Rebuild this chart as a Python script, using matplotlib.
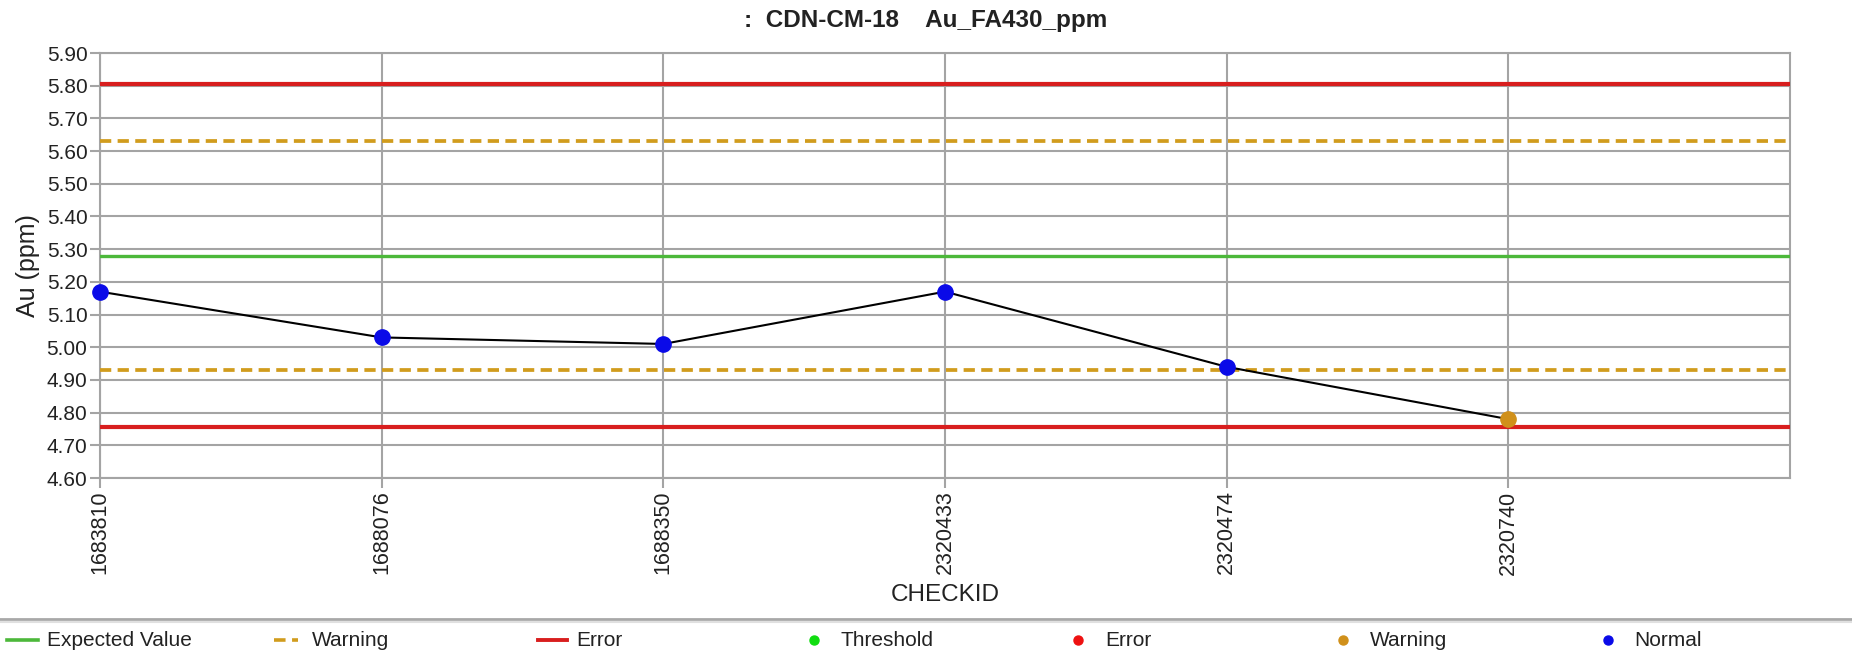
import matplotlib
matplotlib.use("Agg")
import matplotlib.pyplot as plt
from matplotlib.lines import Line2D

plt.rcParams["font.family"] = ["Liberation Sans", "DejaVu Sans"]

# Data
check_ids = ["1683810", "1688076", "1688350", "2320433", "2320474", "2320740"]
au_values = [5.17, 5.03, 5.01, 5.17, 4.94, 4.78]
point_status = ["Normal", "Normal", "Normal", "Normal", "Normal", "Warning"]
expected_value = 5.28
warning_limits = [4.93, 5.63]
error_limits = [4.755, 5.805]
y_ticks = [4.60 + 0.10 * i for i in range(14)]
legend_labels = ["Expected Value", "Warning", "Error", "Threshold", "Error", "Warning", "Normal"]

c_expected = "#4cb83a"
c_warn_line = "#d19c1d"
c_error_line = "#d81e1e"
c_threshold = "#10dd10"
c_error_pt = "#ee1111"
c_warn_pt = "#d0901a"
c_normal = "#0a0ae8"
status_colors = {"Normal": c_normal, "Warning": c_warn_pt, "Error": c_error_pt}
text_color = "#222222"

W, H = 1852, 658
fig = plt.figure(figsize=(W / 100, H / 100), dpi=100)
ax = fig.add_axes([100 / W, 1 - 478 / H, 1690 / W, 425 / H])

x = list(range(len(check_ids)))
ax.set_xlim(0, len(check_ids))
ax.set_ylim(4.60, 5.90)

ax.axhline(expected_value, color=c_expected, lw=2.4, zorder=3)
for w in warning_limits:
    ax.axhline(w, color=c_warn_line, lw=2.7, ls=(0, (3.0, 1.7)), zorder=3)
for e in error_limits:
    ax.axhline(e, color=c_error_line, lw=3.0, zorder=3)

ax.plot(x, au_values, color="black", lw=1.5, zorder=4)
for xi, v, s in zip(x, au_values, point_status):
    ax.plot(xi, v, "o", color=status_colors[s], ms=11, mec=status_colors[s], zorder=5, clip_on=False)

ax.set_yticks(y_ticks)
ax.set_yticklabels([f"{t:.2f}" for t in y_ticks], fontsize=15)
ax.set_xticks(x)
ax.set_xticklabels(check_ids, rotation=90, fontsize=15.5)
ax.grid(True, color="#a4a4a4", lw=1.5)
ax.set_axisbelow(True)
for sp in ax.spines.values():
    sp.set_color("#a4a4a4")
    sp.set_linewidth(1.5)
ax.tick_params(axis="both", color="#a4a4a4", length=7, width=1.5, pad=2, labelcolor=text_color)

ax.set_ylabel("Au (ppm)", fontsize=18, color=text_color)
ax.yaxis.set_label_coords(-72 / 1690, 0.5)
ax.yaxis.label.set_va("center")
ax.set_xlabel("CHECKID", fontsize=17.5, color=text_color)
ax.xaxis.set_label_coords(0.5, -(595 - 478) / 425)
ax.xaxis.label.set_va("center")

fig.text(0.5, 1 - 21 / H, ":  CDN-CM-18    Au_FA430_ppm", ha="center", va="center",
         fontsize=17.5, fontweight="bold", color=text_color)

# Legend strip along the bottom
fig.add_artist(Line2D([0, 1], [1 - 619 / H] * 2, transform=fig.transFigure, color="#a8a8a8", lw=2.0))
fig.add_artist(Line2D([0, 1], [1 - 622 / H] * 2, transform=fig.transFigure, color="#e0e0e0", lw=1.5))

leg_y = 1 - 640 / H
col_step = 264.6
for i, lab in enumerate(legend_labels):
    tx = 47 + col_step * i
    if i == 0:
        fig.add_artist(Line2D([(tx - 40) / W, (tx - 9) / W], [leg_y] * 2,
                              transform=fig.transFigure, color=c_expected, lw=2.6))
    elif i == 1:
        fig.add_artist(Line2D([(tx - 38) / W, (tx - 14) / W], [leg_y] * 2,
                              transform=fig.transFigure, color=c_warn_line, lw=2.6, ls=(0, (3.2, 1.8))))
    elif i == 2:
        fig.add_artist(Line2D([(tx - 38) / W, (tx - 9) / W], [leg_y] * 2,
                              transform=fig.transFigure, color=c_error_line, lw=2.8))
    else:
        col = [c_threshold, c_error_pt, c_warn_pt, c_normal][i - 3]
        fig.add_artist(Line2D([(tx - 27) / W], [leg_y], transform=fig.transFigure,
                              color=col, marker="o", ls="none", ms=6.5))
    fig.text(tx / W, leg_y, lab, ha="left", va="center", fontsize=15, color=text_color)

fig.savefig("out.png", dpi=100, facecolor="white")
